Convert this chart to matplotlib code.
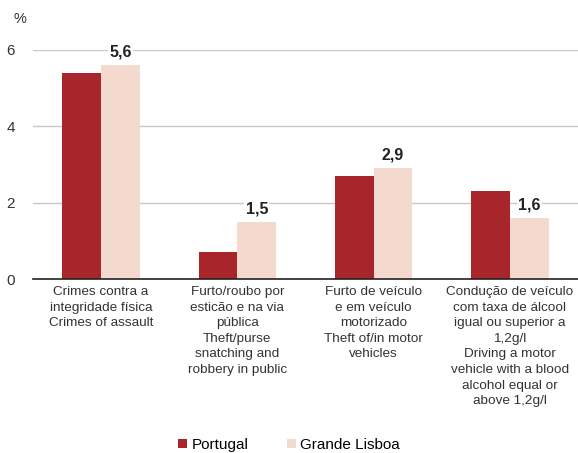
import numpy as np
from matplotlib import pyplot as plt

categories = ['Crimes contra a\nintegridade física\nCrimes of assault',
              'Furto/roubo por\nesticão e na via\npública\nTheft/purse\nsnatching and\nrobbery in public',
              'Furto de veículo\ne em veículo\nmotorizado\nTheft of/in motor\nvehicles',
              'Condução de veículo\ncom taxa de álcool\nigual ou superior a\n1,2g/l\nDriving a motor\nvehicle with a blood\nalcohol equal or\nabove 1,2g/l']
portugal = [5.4, 0.7, 2.7, 2.3]
lisboa = [5.6, 1.5, 2.9, 1.6]
yticks = [0, 2, 4, 6]

plt.rcParams['font.family'] = ['Liberation Sans', 'DejaVu Sans']

fig = plt.figure(figsize=(5.78, 4.53), dpi=100)
ax = fig.add_axes([0.057, 0.384, 0.943, 0.506])

x = np.arange(len(categories))
w = 0.285
ax.bar(x - w / 2, portugal, w, color='#a8262b', label='Portugal', zorder=2)
ax.bar(x + w / 2, lisboa, w, color='#f4d9cf', label='Grande Lisboa', zorder=2)

for xi, v in zip(x, lisboa):
    ax.text(xi + w / 2, v + 0.14, f'{v:.1f}'.replace('.', ','), ha='center', va='bottom',
            fontsize=11.5, fontweight='bold', color='#222222', zorder=3,
            bbox={'facecolor': 'white', 'edgecolor': 'none', 'pad': 1})

ax.set_xlim(-0.5, 3.5)
ax.set_ylim(0, 6)
ax.set_yticks(yticks)
ax.set_yticklabels([str(t) for t in yticks], fontsize=11, color='#333333')
ax.set_xticks(x)
ax.set_xticklabels(categories, fontsize=9.7, color='#333333', va='top', linespacing=1.4)
ax.tick_params(axis='both', length=0)
ax.tick_params(axis='y', pad=13)
ax.tick_params(axis='x', pad=5)
ax.grid(axis='y', color='#c8c8c8', linewidth=1, zorder=0)
for s in ['top', 'right', 'left']:
    ax.spines[s].set_visible(False)
ax.spines['bottom'].set_color('#222222')
ax.spines['bottom'].set_linewidth(1.2)
ax.spines['bottom'].set_zorder(3)

fig.text(0.024, 0.958, '%', fontsize=10.5, color='#333333', va='center')

fig.legend(loc='center', bbox_to_anchor=(0.5, 0.018), ncol=2, frameon=False, fontsize=11,
           handlelength=0.6, handleheight=0.6, handletextpad=0.3, columnspacing=2.5)

plt.savefig('out.png', dpi=100)
